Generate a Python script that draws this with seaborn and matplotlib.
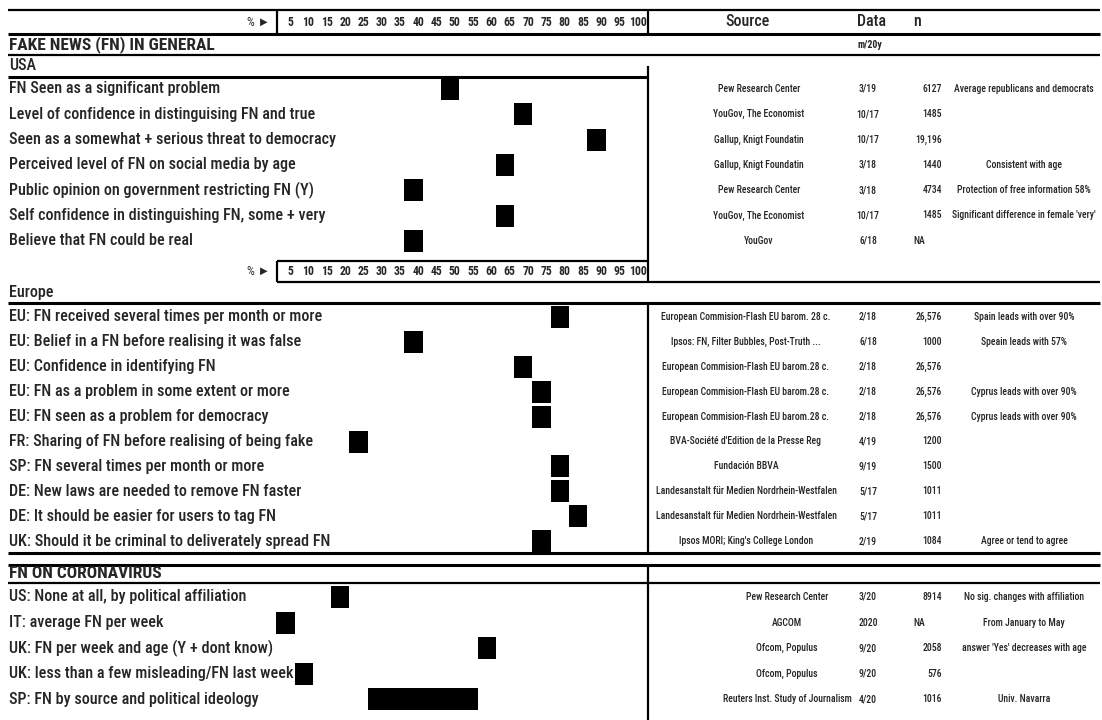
import matplotlib
matplotlib.use("Agg")
import matplotlib.pyplot as plt
import seaborn as sns

# ---------------- data ----------------
scale_ticks = [5, 10, 15, 20, 25, 30, 35, 40, 45, 50, 55, 60, 65, 70, 75, 80, 85, 90, 95, 100]

usa_labels = [
    "FN Seen as a significant problem",
    "Level of confidence in distinguising FN and true",
    "Seen as a somewhat + serious threat to democracy",
    "Perceived level of FN on social media by age",
    "Public opinion on government restricting FN (Y)",
    "Self confidence in distinguishing FN, some + very",
    "Believe that FN could be real",
]
usa_values = [50, 70, 90, 65, 40, 65, 40]
usa_sources = ["Pew Research Center", "YouGov, The Economist", "Gallup, Knigt Foundatin",
               "Gallup, Knigt Foundatin", "Pew Research Center", "YouGov, The Economist", "YouGov"]
usa_dates = ["3/19", "10/17", "10/17", "3/18", "3/18", "10/17", "6/18"]
usa_n = ["6127", "1485", "19,196", "1440", "4734", "1485", "NA"]
usa_notes = ["Average republicans and democrats", "", "", "Consistent with age",
             "Protection of free information 58%", "Significant difference in female 'very'", ""]

eu_labels = [
    "EU: FN received several times per month or more",
    "EU: Belief in a FN before realising it was false",
    "EU: Confidence in identifying FN",
    "EU: FN as a problem in some extent or more",
    "EU: FN seen as a problem for democracy",
    "FR: Sharing of FN before realising of being fake",
    "SP: FN several times per month or more",
    "DE: New laws are needed to remove FN faster",
    "DE: It should be easier for users to tag FN",
    "UK: Should it be criminal to deliverately spread FN",
]
eu_values = [80, 40, 70, 75, 75, 25, 80, 80, 85, 75]
eu_sources = ["European Commision-Flash EU barom. 28 c.", "Ipsos: FN, Filter Bubbles, Post-Truth ...",
              "European Commision-Flash EU barom.28 c.", "European Commision-Flash EU barom.28 c.",
              "European Commision-Flash EU barom.28 c.", "BVA-Société d'Edition de la Presse Reg",
              "Fundación BBVA", "Landesanstalt für Medien Nordrhein-Westfalen",
              "Landesanstalt für Medien Nordrhein-Westfalen", "Ipsos MORI; King's College London"]
eu_dates = ["2/18", "6/18", "2/18", "2/18", "2/18", "4/19", "9/19", "5/17", "5/17", "2/19"]
eu_n = ["26,576", "1000", "26,576", "26,576", "26,576", "1200", "1500", "1011", "1011", "1084"]
eu_notes = ["Spain leads with over 90%", "Speain leads with 57%", "", "Cyprus leads with over 90%",
            "Cyprus leads with over 90%", "", "", "", "", "Agree or tend to agree"]

cov_labels = [
    "US: None at all, by political affiliation",
    "IT: average FN per week",
    "UK: FN per week and age (Y + dont know)",
    "UK: less than a few misleading/FN last week",
    "SP: FN by source and political ideology",
]
cov_low = [20, 5, 60, 10, 30]
cov_high = [20, 5, 60, 10, 55]
cov_sources = ["Pew Research Center", "AGCOM", "Ofcom, Populus", "Ofcom, Populus",
               "Reuters Inst. Study of Journalism"]
cov_dates = ["3/20", "2020", "9/20", "9/20", "4/20"]
cov_n = ["8914", "NA", "2058", "576", "1016"]
cov_notes = ["No sig. changes with affiliation", "From January to May",
             "answer 'Yes' decreases with age", "", "Univ. Navarra"]

# ---------------- layout ----------------
sns.set_theme(style="white")
FONT = ["Roboto Condensed", "Liberation Sans", "DejaVu Sans"]
plt.rcParams["font.family"] = FONT

W, H = 1102, 720
fig = plt.figure(figsize=(W / 100, H / 100), dpi=100)
ax0 = fig.add_axes([0, 0, 1, 1])
ax0.set_xlim(0, W)
ax0.set_ylim(H, 0)
ax0.axis("off")

X0, PX, VMAX = 267.1, 3.66, 105
axb = fig.add_axes([X0 / W, 0, PX * VMAX / W, 1])
axb.set_xlim(0, VMAX)
axb.set_ylim(H, 0)
axb.axis("off")
axb.patch.set_alpha(0)

LX, RX, MX, BX = 8, 1100, 648, 277
LW, LWT = 1.6, 2.2


def hline(y, x1, x2, lw=LW):
    ax0.plot([x1, x2], [y, y], color="black", lw=lw, solid_capstyle="butt")


def vline(x, y1, y2, lw=LW):
    ax0.plot([x, x], [y1, y2], color="black", lw=lw, solid_capstyle="butt")


# table lines
hline(10, LX, RX)
hline(34, LX, RX, LWT)
hline(55, LX, RX)
hline(77, LX, MX, LWT)
hline(261, BX, MX)
hline(282, BX, RX)
hline(303, LX, RX, LWT)
hline(553, LX, RX, LWT)
hline(565, LX, RX, LWT)
hline(583, LX, RX)
vline(BX, 10, 34)
vline(MX, 10, 34)
vline(MX, 66, 282)
vline(BX, 261, 282)
vline(MX, 303, 553)
vline(MX, 565, H)

LABEL = dict(fontsize=11.6, fontweight="medium", va="center", ha="left")

for yy in (22.5, 271.5):
    ax0.text(BX - 7, yy, "% ►", ha="right", va="center", fontsize=9)
    for t in scale_ticks:
        axb.text(t + 1.3, yy, str(t), ha="center", va="center", fontsize=8.5,
                 fontweight="bold")

HDR = dict(fontsize=11.5, fontweight="medium", va="center")
ax0.text(747, 22, "Source", ha="center", **HDR)
ax0.text(872, 22, "Data", ha="center", **HDR)
ax0.text(913, 22, "n", ha="left", **HDR)
ax0.text(870, 45, "m/20y", ha="center", va="center", fontsize=7, fontweight="bold")

ax0.text(LX + 1, 44.5, "FAKE NEWS (FN) IN GENERAL", ha="left", va="center", fontsize=12.5,
         fontweight="bold")
ax0.text(LX + 1, 66, "USA", **LABEL)
ax0.text(LX + 1, 292.5, "Europe", **LABEL)
ax0.text(LX + 1, 574, "FN ON CORONAVIRUS", ha="left", va="center", fontsize=12.5,
         fontweight="bold")

SMALL = dict(fontsize=7, fontweight="medium", va="center")


def section(y0, step, labels, lows, highs, sources, dates, ns, notes, src_x):
    for i, lab in enumerate(labels):
        y = y0 + step * i
        ax0.text(LX + 1, y, lab, **LABEL)
        axb.barh(y, highs[i] - lows[i] + 5, left=lows[i] - 2.5, height=22,
                 color="black", edgecolor="none")
        ax0.text(src_x, y, sources[i], ha="center", **SMALL)
        ax0.text(868, y, dates[i], ha="center", **SMALL)
        if ns[i] == "NA":
            ax0.text(919, y, ns[i], ha="center", **SMALL)
        else:
            ax0.text(942, y, ns[i], ha="right", **SMALL)
        if notes[i]:
            ax0.text(1024, y, notes[i], ha="center", **SMALL)


section(89, 25.3, usa_labels, usa_values, usa_values, usa_sources, usa_dates, usa_n, usa_notes, 759)
section(317, 24.9, eu_labels, eu_values, eu_values, eu_sources, eu_dates, eu_n, eu_notes, 746)
section(597, 25.6, cov_labels, cov_low, cov_high, cov_sources, cov_dates, cov_n, cov_notes, 787)

fig.savefig("out.png", dpi=100)
